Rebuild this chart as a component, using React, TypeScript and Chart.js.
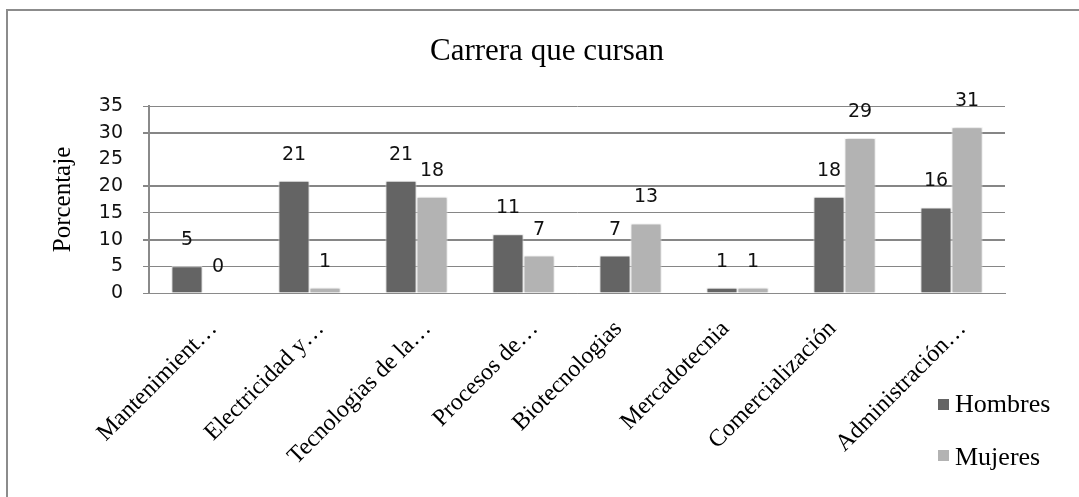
import React, { useEffect, useRef } from 'react';
import { Chart, registerables } from 'chart.js';

Chart.register(...registerables);

const categories = [
  'Mantenimient…',
  'Electricidad y…',
  'Tecnologias de la…',
  'Procesos de…',
  'Biotecnologias',
  'Mercadotecnia',
  'Comercialización',
  'Administración…',
];
const hombres = [5, 21, 21, 11, 7, 1, 18, 16];
const mujeres = [0, 1, 18, 7, 13, 1, 29, 31];
const seriesNames = ['Hombres', 'Mujeres'];
const seriesColors = ['#646464', '#b3b3b3'];
const chartTitle = 'Carrera que cursan';
const yTitle = 'Porcentaje';

const SERIF = '"Liberation Serif", "Times New Roman", serif';
const SANS = '"DejaVu Sans", sans-serif';

const decorPlugin = {
  id: 'decor',
  beforeDraw(chart: any) {
    const ctx = chart.ctx;
    // truncated labels overflow to the right of their tick, as in the source
    const xs = chart.scales.x;
    if (xs) {
      const items = xs.getLabelItems(chart.chartArea);
      items.forEach((it: any) => {
        if (!it._shifted && String(it.label).endsWith('…')) {
          it.options.translation[0] += 23;
          it._shifted = true;
        }
      });
    }
    ctx.save();
    ctx.fillStyle = '#ffffff';
    ctx.fillRect(0, 0, chart.width, chart.height);
    ctx.strokeStyle = '#8c8c8c';
    ctx.lineWidth = 2;
    ctx.strokeRect(7, 10, chart.width + 40, chart.height + 40);
    ctx.restore();
  },
  beforeDatasetsDraw(chart: any) {
    const ctx = chart.ctx;
    ctx.save();
    ctx.shadowColor = 'rgba(0,0,0,0.22)';
    ctx.shadowBlur = 3;
  },
  afterDatasetsDraw(chart: any) {
    const ctx = chart.ctx;
    ctx.restore();
    ctx.save();
    ctx.font = '19px ' + SANS;
    ctx.fillStyle = '#111';
    ctx.textAlign = 'center';
    ctx.textBaseline = 'middle';
    chart.data.datasets.forEach((ds: any, di: number) => {
      const meta = chart.getDatasetMeta(di);
      meta.data.forEach((el: any, i: number) => {
        ctx.fillText(String(ds.data[i]), el.x, el.y - 26);
      });
    });
    ctx.restore();
  },
  afterDraw(chart: any) {
    const ctx = chart.ctx;
    ctx.save();
    // title
    ctx.font = '31px ' + SERIF;
    ctx.fillStyle = '#000';
    ctx.textAlign = 'center';
    ctx.textBaseline = 'alphabetic';
    ctx.fillText(chartTitle, 547, 60);
    // legend
    ctx.font = '26px ' + SERIF;
    ctx.textAlign = 'left';
    chart.data.datasets.forEach((ds: any, i: number) => {
      const top = 399 + i * 51;
      ctx.fillStyle = ds.backgroundColor;
      ctx.fillRect(938, top, 11, 11);
      ctx.fillStyle = '#000';
      ctx.fillText(ds.label, 955, top + 13 + i * 2);
    });
    ctx.restore();
  },
};

export default function App() {
  const ref = useRef<HTMLCanvasElement | null>(null);

  useEffect(() => {
    if (!ref.current) return;
    const chart = new Chart(ref.current, {
      type: 'bar',
      data: {
        labels: categories,
        datasets: [
          {
            label: seriesNames[0],
            data: hombres,
            backgroundColor: seriesColors[0],
            borderColor: '#ffffff',
            borderWidth: 1,
          },
          {
            label: seriesNames[1],
            data: mujeres,
            backgroundColor: seriesColors[1],
            borderColor: '#ffffff',
            borderWidth: 1,
          },
        ],
      },
      options: {
        responsive: false,
        animation: false,
        devicePixelRatio: 1,
        layout: { padding: { top: 106, left: 48, right: 74, bottom: 0 } },
        datasets: { bar: { barPercentage: 1, categoryPercentage: 0.58 } },
        plugins: {
          legend: { display: false },
          title: { display: false },
          tooltip: { enabled: false },
        },
        scales: {
          x: {
            grid: { display: false, drawTicks: false },
            border: { display: true, color: '#8a8a8a', width: 1 },
            ticks: {
              autoSkip: false,
              maxRotation: 45,
              minRotation: 45,
              padding: 22,
              color: '#000',
              font: { family: SERIF, size: 24 },
              labelOffset: -12,
            },
            afterFit: (s: any) => {
              s.height = 204;
            },
          },
          y: {
            min: 0,
            max: 35,
            ticks: {
              stepSize: 5,
              padding: 20,
              color: '#111',
              font: { family: SANS, size: 19 },
            },
            grid: {
              color: (c: any) =>
                c.tick && c.tick.value === 25 ? 'rgba(0,0,0,0)' : '#868686',
              lineWidth: (c: any) =>
                c.tick && [10, 20, 30].includes(c.tick.value) ? 2 : 1,
              tickLength: 6,
            },
            border: { display: true, color: '#8a8a8a', width: 2 },
            title: {
              display: true,
              text: yTitle,
              color: '#000',
              font: { family: SERIF, size: 25 },
              padding: 0,
            },
            afterFit: (s: any) => {
              s.width = 101;
            },
          },
        },
      },
      plugins: [decorPlugin],
    });
    return () => chart.destroy();
  }, []);

  return (
    <div
      style={{
        position: 'fixed',
        left: 0,
        top: 0,
        width: 1079,
        height: 497,
        background: '#fff',
      }}
    >
      <canvas ref={ref} width={1079} height={497} style={{ display: 'block' }} />
    </div>
  );
}
